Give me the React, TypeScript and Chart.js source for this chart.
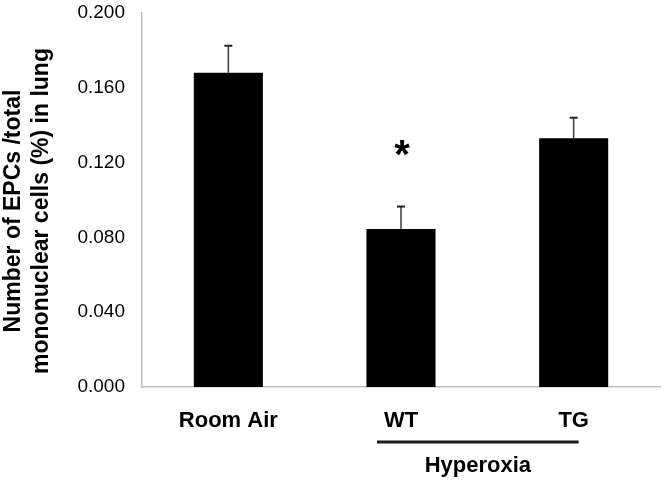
import { useEffect, useRef } from 'react';
import { Chart, registerables } from 'chart.js';

Chart.register(...registerables);

const categories = ['Room Air', 'WT', 'TG'];
const means = [0.168, 0.0845, 0.133];
const errors = [0.0145, 0.012, 0.011];
const significance = ['', '*', ''];
const yTicks = [0, 0.04, 0.08, 0.12, 0.16, 0.2];
const yTitle = ['Number of EPCs /total', 'mononuclear cells (%) in lung'];
const groupLabel = 'Hyperoxia';
const groupMembers = [1, 2];

const FONT = '"Liberation Sans", Arial, Helvetica, sans-serif';

const annotations = {
  id: 'annotations',
  afterDatasetsDraw(chart: any) {
    const { ctx, chartArea } = chart;
    const x = chart.scales.x;
    const y = chart.scales.y;
    ctx.save();
    categories.forEach((_, i) => {
      const cx = x.getPixelForValue(i);
      const base = y.getPixelForValue(means[i]);
      const top = y.getPixelForValue(means[i] + errors[i]);
      ctx.strokeStyle = '#3a3a3a';
      ctx.lineWidth = 1.5;
      ctx.beginPath();
      ctx.moveTo(cx, base);
      ctx.lineTo(cx, top);
      ctx.stroke();
      ctx.strokeStyle = '#222';
      ctx.lineWidth = 2;
      ctx.beginPath();
      ctx.moveTo(cx - 4, top);
      ctx.lineTo(cx + 4, top);
      ctx.stroke();
      if (significance[i]) {
        ctx.fillStyle = '#000';
        ctx.font = `bold 40px ${FONT}`;
        ctx.textAlign = 'center';
        ctx.textBaseline = 'alphabetic';
        ctx.fillText(significance[i], cx + 1, top - 39);
      }
    });
    // group bracket
    const x1 = x.getPixelForValue(groupMembers[0]) - 24;
    const x2 = x.getPixelForValue(groupMembers[1]) + 5;
    const ly = chartArea.bottom + 55;
    ctx.strokeStyle = '#1a1a1a';
    ctx.lineWidth = 3;
    ctx.beginPath();
    ctx.moveTo(x1, ly);
    ctx.lineTo(x2, ly);
    ctx.stroke();
    ctx.fillStyle = '#000';
    ctx.font = `bold 22px ${FONT}`;
    ctx.textAlign = 'center';
    ctx.textBaseline = 'alphabetic';
    ctx.fillText(groupLabel, (x1 + x2) / 2, chartArea.bottom + 85);
    // y axis title
    ctx.translate(0, 211);
    ctx.rotate(-Math.PI / 2);
    ctx.font = `bold 23px ${FONT}`;
    ctx.textBaseline = 'middle';
    yTitle.forEach((line, k) => {
      ctx.fillText(line, 0, 14 + k * 28);
    });
    ctx.restore();
  },
};

export default function App() {
  const ref = useRef<HTMLCanvasElement | null>(null);
  useEffect(() => {
    if (!ref.current) return;
    const chart = new Chart(ref.current, {
      type: 'bar',
      data: {
        labels: categories,
        datasets: [
          {
            data: means,
            backgroundColor: '#000',
            borderWidth: 0,
            barPercentage: 0.4,
            categoryPercentage: 1,
          },
        ],
      },
      options: {
        responsive: false,
        animation: false,
        devicePixelRatio: 1,
        layout: { padding: { top: 0, right: 6, bottom: 0, left: 0 } },
        plugins: {
          legend: { display: false },
          tooltip: { enabled: false },
        },
        scales: {
          x: {
            grid: { display: false, drawTicks: false },
            border: { display: true, color: '#bfbfbf', width: 1.5 },
            ticks: {
              color: '#000',
              font: { family: FONT, size: 22, weight: 'bold' },
              padding: 21,
            },
            afterFit(scale: any) {
              scale.height = 94;
            },
          },
          y: {
            min: 0,
            max: 0.2,
            grid: { display: false, drawTicks: false },
            border: { display: true, color: '#bfbfbf', width: 1.5 },
            afterBuildTicks(scale: any) {
              scale.ticks = yTicks.map((v) => ({ value: v }));
            },
            ticks: {
              color: '#000',
              font: { family: FONT, size: 19 },
              padding: 17,
              callback: (v: any) => Number(v).toFixed(3),
            },
            afterFit(scale: any) {
              scale.width = 142;
              scale.paddingTop = 13;
            },
          },
        },
      },
      plugins: [annotations],
    });
    return () => chart.destroy();
  }, []);
  return (
    <div style={{ position: 'absolute', left: 0, top: 0, width: 666, height: 481, background: '#fff' }}>
      <canvas ref={ref} width={666} height={481} style={{ display: 'block' }} />
    </div>
  );
}
